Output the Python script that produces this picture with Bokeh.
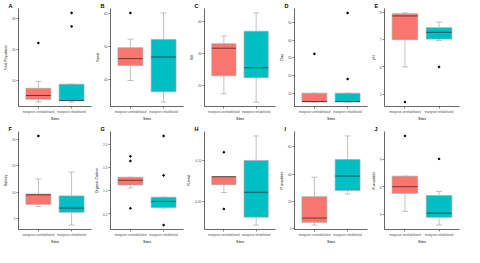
from bokeh.plotting import figure
from bokeh.layouts import gridplot
from bokeh.models import Range1d, FactorRange, FixedTicker, ColumnDataSource
from bokeh.transform import dodge
from bokeh.embed import file_html
from bokeh.resources import INLINE

sites = ["mangrove unrehabilitated", "mangrove rehabilitated"]
fills = ["#F8766D", "#00BFC4"]

letters = ["A", "B", "C", "D", "E", "F", "G", "H", "I", "J"]
ylabels = ["Total Population", "Sand", "Silt", "Clay", "pH",
           "Salinity", "Organic Carbon", "N-total", "P-available", "K-available"]

# box statistics per variable: [unrehabilitated, rehabilitated]
A_lower = [3.2, 3.2];   A_q1 = [4.1, 3.6];   A_median = [5.3, 3.7];   A_q3 = [7.6, 8.9];   A_upper = [9.8, 8.9]
A_out = [[22.1], [27.4, 31.7]]
B_lower = [39.7, 33.2]; B_q1 = [44.2, 36.3]; B_median = [46.3, 46.8]; B_q3 = [49.6, 52.1]; B_upper = [52.2, 60.1]
B_out = [[60.1], []]
C_lower = [17.5, 14.9]; C_q1 = [23.1, 22.5]; C_median = [31.7, 25.6]; C_q3 = [33.1, 37.0]; C_upper = [35.5, 42.7]
C_out = [[], []]
D_lower = [5.0, 5.0];   D_q1 = [5.0, 5.0];   D_median = [5.3, 5.3];   D_q3 = [10.0, 10.0]; D_upper = [10.0, 10.0]
D_out = [[32.2], [55.3, 18.0]]
E_lower = [6.0, 6.97];  E_q1 = [7.0, 7.02];  E_median = [7.87, 7.27]; E_q3 = [7.95, 7.44]; E_upper = [7.98, 7.64]
E_out = [[4.71], [6.0]]
F_lower = [7.3, 3.8];   F_q1 = [7.7, 6.2];   F_median = [9.5, 7.0];   F_q3 = [9.64, 9.3];  F_upper = [12.5, 13.8]
F_out = [[20.6], []]
G_lower = [1.06, 0.625]; G_q1 = [1.125, 0.64]; G_median = [1.225, 0.77]; G_q3 = [1.29, 0.86]; G_upper = [1.29, 0.86]
G_out = [[1.74, 1.64, 0.62], [2.18, 1.33, 0.26]]
H_lower = [0.0607, 0.0208]; H_q1 = [0.0702, 0.0305]; H_median = [0.080, 0.061]; H_q3 = [0.0802, 0.100]; H_upper = [0.0802, 0.130]
H_out = [[0.110, 0.0405], []]
I_lower = [2.8, 25.5];  I_q1 = [4.8, 28.1];  I_median = [7.9, 38.6];  I_q3 = [23.5, 50.7]; I_upper = [37.8, 67.9]
I_out = [[], []]
J_lower = [3.38, 1.9];  J_q1 = [5.32, 2.73]; J_median = [6.03, 3.18]; J_q3 = [7.16, 5.08]; J_upper = [7.16, 5.53]
J_out = [[11.5], [9.03]]

# y tick values and labels
A_ticks = [10, 20, 30];          A_tlab = ["10", "20", "30"]
B_ticks = [40, 50, 60];          B_tlab = ["40", "50", "60"]
C_ticks = [20, 30, 40];          C_tlab = ["20", "30", "40"]
D_ticks = [10, 20, 30, 40, 50];  D_tlab = ["10", "20", "30", "40", "50"]
E_ticks = [5, 6, 7, 8];          E_tlab = ["5", "6", "7", "8"]
F_ticks = [5, 10, 15, 20];       F_tlab = ["5", "10", "15", "20"]
G_ticks = [0.5, 1.0, 1.5, 2.0];  G_tlab = ["0.5", "1.0", "1.5", "2.0"]
H_ticks = [0.05, 0.10];          H_tlab = ["0.05", "0.10"]
I_ticks = [0, 20, 40, 60];       I_tlab = ["0", "20", "40", "60"]
J_ticks = [3, 6, 9];             J_tlab = ["3", "6", "9"]

FONT = "Liberation Sans"
PW, PH = 92, 123


def panel(letter, ylabel, lower, q1, median, q3, upper, outs, ticks, tlabs):
    allv = lower + upper + [o for os in outs for o in os]
    lo, hi = min(allv), max(allv)
    pad = 0.05 * (hi - lo)
    p = figure(x_range=FactorRange(factors=sites, range_padding=0.1, range_padding_units="absolute"),
               y_range=Range1d(lo - pad, hi + pad),
               width=PW, height=PH, title=letter,
               min_border_left=12, min_border_right=1, min_border_top=0, min_border_bottom=9,
               output_backend="svg", toolbar_location=None,
               background_fill_color="white", border_fill_color="white", outline_line_color=None)
    p.title.text_font = FONT
    p.title.text_font_size = "5.5px"
    p.title.text_font_style = "bold"
    p.title.text_color = "black"
    p.title.align = "left"
    p.title.offset = -10
    p.title.standoff = 0
    p.grid.visible = False
    src = ColumnDataSource(dict(site=sites, lower=lower, q1=q1, median=median, q3=q3, upper=upper, fill=fills))
    wc = "#a6a6a6"
    p.segment(x0="site", y0="lower", x1="site", y1="q1", source=src, line_color=wc, line_width=0.7)
    p.segment(x0="site", y0="q3", x1="site", y1="upper", source=src, line_color=wc, line_width=0.7)
    for col in ("lower", "upper"):
        p.segment(x0=dodge("site", -0.09, range=p.x_range), y0=col,
                  x1=dodge("site", 0.09, range=p.x_range), y1=col,
                  source=src, line_color=wc, line_width=0.7)
    p.vbar(x="site", bottom="q1", top="q3", width=0.75, source=src,
           fill_color="fill", line_color=wc, line_width=0.7)
    p.segment(x0=dodge("site", -0.375, range=p.x_range), y0="median",
              x1=dodge("site", 0.375, range=p.x_range), y1="median",
              source=src, line_color="black", line_alpha=0.55, line_width=1)
    ox, oy = [], []
    for s, os in zip(sites, outs):
        for o in os:
            ox.append(s)
            oy.append(o)
    if ox:
        p.scatter(x=ox, y=oy, size=1.7, color="black")

    p.yaxis.ticker = FixedTicker(ticks=ticks)
    p.yaxis.major_label_overrides = {t: l for t, l in zip(ticks, tlabs)}
    p.yaxis.axis_label = ylabel
    p.xaxis.axis_label = "Sites"
    for ax in (p.xaxis[0], p.yaxis[0]):
        ax.axis_line_color = "black"
        ax.axis_line_width = 0.6
        ax.major_tick_line_color = "#333333"
        ax.major_tick_line_width = 0.6
        ax.major_tick_out = 2
        ax.major_tick_in = 0
        ax.minor_tick_out = 0
        ax.minor_tick_in = 0
        ax.major_label_text_font = FONT
        ax.major_label_text_color = "#4D4D4D"
        ax.major_label_standoff = 1
        ax.axis_label_text_font = FONT
        ax.axis_label_text_font_style = "normal"
        ax.axis_label_text_font_size = "3.6px"
        ax.axis_label_text_color = "black"
        ax.axis_label_standoff = 1
    p.yaxis.major_label_text_font_size = "3.2px"
    p.xaxis.major_label_text_font_size = "2.8px"
    return p


specs = [
    (A_lower, A_q1, A_median, A_q3, A_upper, A_out, A_ticks, A_tlab),
    (B_lower, B_q1, B_median, B_q3, B_upper, B_out, B_ticks, B_tlab),
    (C_lower, C_q1, C_median, C_q3, C_upper, C_out, C_ticks, C_tlab),
    (D_lower, D_q1, D_median, D_q3, D_upper, D_out, D_ticks, D_tlab),
    (E_lower, E_q1, E_median, E_q3, E_upper, E_out, E_ticks, E_tlab),
    (F_lower, F_q1, F_median, F_q3, F_upper, F_out, F_ticks, F_tlab),
    (G_lower, G_q1, G_median, G_q3, G_upper, G_out, G_ticks, G_tlab),
    (H_lower, H_q1, H_median, H_q3, H_upper, H_out, H_ticks, H_tlab),
    (I_lower, I_q1, I_median, I_q3, I_upper, I_out, I_ticks, I_tlab),
    (J_lower, J_q1, J_median, J_q3, J_upper, J_out, J_ticks, J_tlab),
]

figs = [panel(letters[i], ylabels[i], *specs[i]) for i in range(10)]
grid = gridplot([figs[:5], figs[5:]], toolbar_location=None)

open("out.html", "w").write(file_html(grid, INLINE))
